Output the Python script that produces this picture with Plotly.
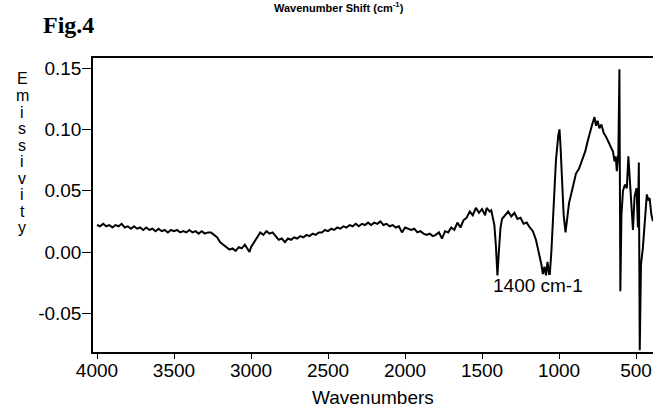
import plotly.graph_objects as go

wavenumber = [
    4000, 3980, 3960, 3940, 3920, 3900, 3880, 3860, 3840, 3820, 3800, 3780, 3760, 3740, 3720, 3700,
    3680, 3660, 3640, 3620, 3600, 3580, 3560, 3540, 3520, 3500, 3480, 3460, 3440, 3420, 3400, 3380,
    3360, 3340, 3320, 3300, 3280, 3260, 3240, 3220, 3200, 3180, 3160, 3140, 3120, 3100, 3080, 3060,
    3040, 3020, 3010, 3000, 2980, 2960, 2950, 2940, 2920, 2900, 2880, 2860, 2840, 2820, 2800, 2780,
    2760, 2740, 2720, 2700, 2680, 2660, 2640, 2620, 2600, 2580, 2560, 2540, 2520, 2500, 2480, 2460,
    2440, 2420, 2400, 2380, 2360, 2340, 2320, 2300, 2280, 2260, 2240, 2220, 2200, 2180, 2160, 2140,
    2120, 2100, 2080, 2060, 2040, 2020, 2000, 1980, 1960, 1940, 1920, 1900, 1880, 1860, 1840, 1820,
    1800, 1780, 1760, 1740, 1720, 1700, 1680, 1660, 1640, 1620, 1600, 1580, 1560, 1540, 1520, 1500,
    1480, 1470, 1450, 1440, 1430, 1420, 1410, 1400, 1390, 1380, 1370, 1350, 1330, 1310, 1290, 1270,
    1250, 1230, 1210, 1190, 1170, 1150, 1130, 1115, 1105, 1095, 1085, 1075, 1065, 1060, 1050, 1035,
    1020, 1005, 997, 990, 980, 970, 958, 948, 935, 920, 905, 890, 870, 850, 830, 815,
    800, 785, 770, 760, 750, 738, 725, 710, 695, 680, 665, 650, 640, 632, 625, 615,
    608, 602, 595, 585, 572, 560, 550, 540, 530, 520, 510, 497, 488, 482, 476, 468,
    456, 445, 430, 420, 412, 400, 390,
]
emissivity = [
    0.022, 0.021, 0.023, 0.021, 0.022, 0.020, 0.022, 0.021, 0.023, 0.020, 0.021, 0.019, 0.021, 0.019, 0.020, 0.018,
    0.020, 0.018, 0.019, 0.017, 0.019, 0.017, 0.018, 0.016, 0.018, 0.017, 0.018, 0.016, 0.017, 0.016, 0.018, 0.016,
    0.017, 0.015, 0.017, 0.015, 0.016, 0.016, 0.014, 0.012, 0.008, 0.006, 0.004, 0.002, 0.003, 0.001, 0.004, 0.003,
    0.006, 0.002, 0.000, 0.004, 0.008, 0.012, 0.014, 0.016, 0.014, 0.017, 0.015, 0.016, 0.013, 0.010, 0.011, 0.008,
    0.011, 0.010, 0.012, 0.011, 0.013, 0.012, 0.014, 0.013, 0.015, 0.014, 0.016, 0.016, 0.018, 0.017, 0.019, 0.018,
    0.020, 0.019, 0.021, 0.020, 0.022, 0.021, 0.023, 0.021, 0.023, 0.022, 0.024, 0.022, 0.024, 0.023, 0.025, 0.022,
    0.023, 0.021, 0.022, 0.020, 0.021, 0.016, 0.020, 0.019, 0.018, 0.019, 0.016, 0.017, 0.015, 0.014, 0.015, 0.013,
    0.014, 0.016, 0.011, 0.017, 0.016, 0.020, 0.018, 0.024, 0.020, 0.026, 0.028, 0.033, 0.030, 0.036, 0.032, 0.035,
    0.030, 0.036, 0.033, 0.034, 0.029, 0.022, 0.005, -0.019, 0.002, 0.020, 0.027, 0.030, 0.033, 0.029, 0.032, 0.027,
    0.028, 0.023, 0.024, 0.020, 0.017, 0.010, 0.000, -0.010, -0.018, -0.012, -0.019, -0.008, -0.018, -0.018, 0.000, 0.040,
    0.075, 0.095, 0.100, 0.085, 0.055, 0.030, 0.016, 0.025, 0.040, 0.048, 0.055, 0.064, 0.068, 0.075, 0.082, 0.090,
    0.098, 0.104, 0.110, 0.103, 0.107, 0.101, 0.104, 0.097, 0.094, 0.090, 0.085, 0.082, 0.074, 0.078, 0.066, 0.080,
    0.149, -0.032, 0.030, 0.050, 0.055, 0.052, 0.078, 0.057, 0.040, 0.018, 0.045, 0.052, 0.020, 0.073, -0.080, -0.010,
    0.003, 0.025, 0.047, 0.042, 0.044, 0.030, 0.025,
]

x_ticks = [4000, 3500, 3000, 2500, 2000, 1500, 1000, 500]
y_ticks = [-0.05, 0.00, 0.05, 0.10, 0.15]
y_tick_text = ["-0.05", "0.00", "0.05", "0.10", "0.15"]
y_title_letters = list("Emissivity")

FONT = "Liberation Sans, Arial, sans-serif"

# plot area in pixels (figure 653 x 412)
L, T, B = 93, 58, 60
PW, PH = 653 - L, 412 - T - B


def px(xp):
    return (xp - L) / PW


def py(yp):
    return (412 - B - yp) / PH


fig = go.Figure()
fig.add_trace(go.Scatter(
    x=wavenumber, y=emissivity, mode="lines",
    line=dict(color="black", width=2), showlegend=False, hoverinfo="skip",
))

annotations = [
    dict(text="1400 cm-1", x=1136, y=-0.027, xref="x", yref="y", showarrow=False,
         font=dict(family=FONT, size=19, color="black")),
    dict(text="Wavenumbers", x=px(373), y=py(397), xref="paper", yref="paper", showarrow=False,
         xanchor="center", yanchor="middle", font=dict(family=FONT, size=19, color="black")),
    dict(text="<b>Fig.4</b>", x=px(68), y=py(25), xref="paper", yref="paper", showarrow=False,
         xanchor="center", yanchor="middle",
         font=dict(family="Liberation Serif, Times New Roman, serif", size=24, color="black")),
    dict(text="<b>Wavenumber Shift (cm<sup>-1</sup>)</b>", x=px(339), y=py(7),
         xref="paper", yref="paper", showarrow=False, xanchor="center", yanchor="middle",
         font=dict(family=FONT, size=11, color="black")),
]
for i, ch in enumerate(y_title_letters):
    ypx = 79 + i * 16.5
    annotations.append(dict(
        text=ch, x=px(22), y=py(ypx), xref="paper", yref="paper",
        showarrow=False, xanchor="center", yanchor="middle",
        font=dict(family=FONT, size=16, color="black"),
    ))

fig.update_layout(
    width=653, height=412,
    margin=dict(l=L, r=0, t=T, b=B, autoexpand=False),
    paper_bgcolor="white", plot_bgcolor="white",
    font=dict(family=FONT, size=18, color="black"),
    annotations=annotations,
    xaxis=dict(
        range=[4026, 390], tickvals=x_ticks, ticktext=[str(v) for v in x_ticks],
        automargin=False, ticklabelstandoff=-5,
        showgrid=False, zeroline=False, showline=True, linecolor="black", linewidth=1.5,
        mirror=True, ticks="outside", ticklen=5, tickwidth=1.2, tickcolor="black",
        tickfont=dict(family=FONT, size=19, color="black"),
    ),
    yaxis=dict(
        range=[-0.0815, 0.1582], tickvals=y_ticks, ticktext=y_tick_text,
        automargin=False, ticklabelstandoff=-3,
        showgrid=False, zeroline=False, showline=True, linecolor="black", linewidth=1.5,
        ticks="outside", ticklen=9, tickwidth=1.2, tickcolor="black",
        tickfont=dict(family=FONT, size=19, color="black"),
    ),
)

fig.write_html(
    "out.html",
    config={"displayModeBar": False},
    post_script="document.body.style.margin='0';document.body.style.overflow='hidden';",
)
